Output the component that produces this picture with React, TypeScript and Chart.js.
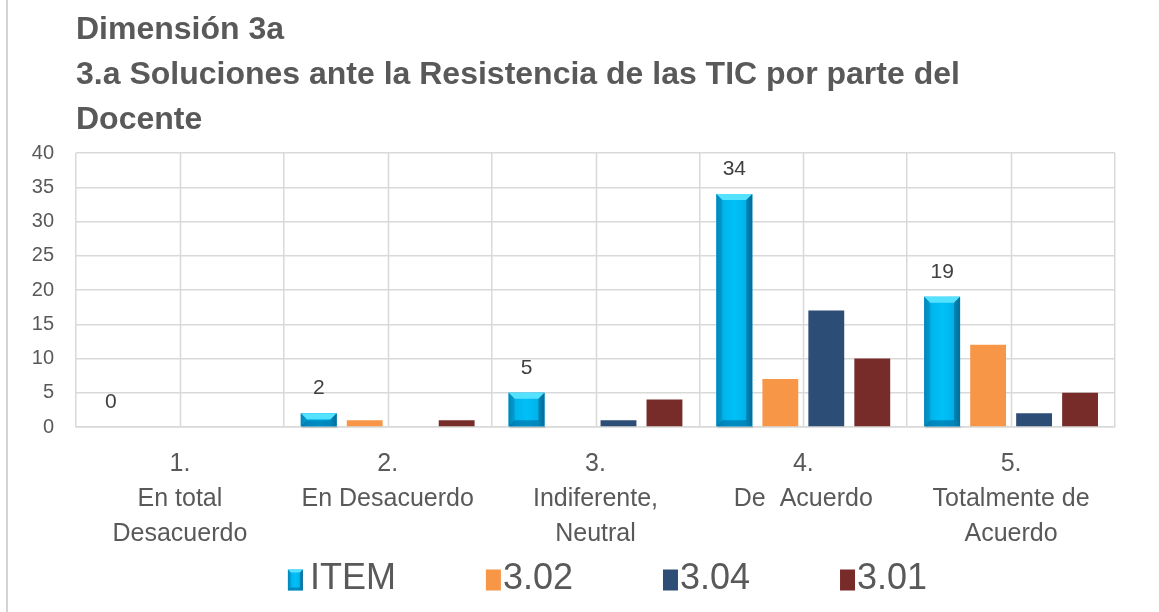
import React, { useEffect, useRef } from "react";
import { Chart, registerables } from "chart.js";

Chart.register(...registerables);

const titleLines = [
  "Dimensión 3a",
  "3.a Soluciones ante la Resistencia de las TIC por parte del",
  "Docente",
];
const categories: string[][] = [
  ["1.", "En total", "Desacuerdo"],
  ["2.", "En Desacuerdo"],
  ["3.", "Indiferente,", "Neutral"],
  ["4.", "De  Acuerdo"],
  ["5.", "Totalmente de", "Acuerdo"],
];
const seriesNames = ["ITEM", "3.02", "3.04", "3.01"];
const itemValues = [0, 2, 5, 34, 19];
const s302Values = [0, 1, 0, 7, 12];
const s304Values = [0, 0, 1, 17, 2];
const s301Values = [0, 1, 4, 10, 5];
const seriesColors = ["#00b9f2", "#f79646", "#2c4d75", "#772c2a"];
const yMin = 0;
const yMax = 40;
const yStep = 5;

const FONT = "'Liberation Sans', Arial, sans-serif";
const TEXT = "#595959";
const GRID = "#d9d9d9";

function drawBevel(ctx: CanvasRenderingContext2D, x0: number, x1: number, top: number, bottom: number, bev: number) {
  const w = x1 - x0;
  const h = bottom - top;
  if (h <= 0.5 || w <= 0) return;
  const b = Math.min(bev, w / 4, h / 2);
  const g = ctx.createLinearGradient(x0, 0, x1, 0);
  g.addColorStop(0, "#0a8cbd");
  g.addColorStop(0.18, "#00b4ec");
  g.addColorStop(0.5, "#00c0f8");
  g.addColorStop(0.82, "#00b2ea");
  g.addColorStop(1, "#0a86b5");
  ctx.save();
  ctx.fillStyle = g;
  ctx.fillRect(x0, top, w, h);
  ctx.fillStyle = "#55e2ff";
  ctx.beginPath();
  ctx.moveTo(x0, top);
  ctx.lineTo(x1, top);
  ctx.lineTo(x1 - b, top + b);
  ctx.lineTo(x0 + b, top + b);
  ctx.closePath();
  ctx.fill();
  ctx.fillStyle = "rgba(0,120,170,0.35)";
  ctx.beginPath();
  ctx.moveTo(x0, top);
  ctx.lineTo(x0 + b, top + b);
  ctx.lineTo(x0 + b, bottom - b);
  ctx.lineTo(x0, bottom);
  ctx.closePath();
  ctx.fill();
  ctx.fillStyle = "rgba(0,80,120,0.45)";
  ctx.beginPath();
  ctx.moveTo(x1, top);
  ctx.lineTo(x1 - b, top + b);
  ctx.lineTo(x1 - b, bottom - b);
  ctx.lineTo(x1, bottom);
  ctx.closePath();
  ctx.fill();
  ctx.fillStyle = "rgba(0,90,140,0.5)";
  ctx.beginPath();
  ctx.moveTo(x0, bottom);
  ctx.lineTo(x0 + b, bottom - b);
  ctx.lineTo(x1 - b, bottom - b);
  ctx.lineTo(x1, bottom);
  ctx.closePath();
  ctx.fill();
  ctx.restore();
}

const centerGridPlugin = {
  id: "centerGrid",
  beforeDatasetsDraw(chart: any) {
    const { ctx, chartArea, scales } = chart;
    const xs = scales.x;
    ctx.save();
    ctx.strokeStyle = GRID;
    ctx.lineWidth = 1.5;
    for (let i = 0; i < categories.length; i++) {
      const x = Math.round(xs.getPixelForValue(i)) + 0.5;
      ctx.beginPath();
      ctx.moveTo(x, chartArea.top);
      ctx.lineTo(x, chartArea.bottom);
      ctx.stroke();
    }
    ctx.restore();
  },
};

const itemStylePlugin = {
  id: "itemStyle",
  afterDatasetsDraw(chart: any) {
    const { ctx } = chart;
    const meta = chart.getDatasetMeta(0);
    meta.data.forEach((el: any, i: number) => {
      const half = el.width / 2;
      const top = Math.min(el.y, el.base);
      const bottom = Math.max(el.y, el.base);
      if (bottom - top > 0.5) {
        ctx.save();
        ctx.fillStyle = "rgba(0,0,0,0.12)";
        ctx.fillRect(el.x - half + 1, bottom, el.width, 2);
        ctx.restore();
      }
      drawBevel(ctx, el.x - half, el.x + half, top, bottom, 6);
      ctx.save();
      ctx.font = `21px ${FONT}`;
      ctx.fillStyle = "#404040";
      ctx.textAlign = "center";
      ctx.textBaseline = "middle";
      ctx.fillText(String(itemValues[i]), el.x, el.y - 25);
      ctx.restore();
    });
  },
};

const legendPlugin = {
  id: "customLegend",
  afterDraw(chart: any) {
    const { ctx, chartArea } = chart;
    ctx.save();
    ctx.font = `36px ${FONT}`;
    const boxW = 15;
    const boxH = 21;
    const gap = 2;
    const itemGap = 90;
    const widths = seriesNames.map((n, i) => boxW + gap + (i === 0 ? 5 : 0) + ctx.measureText(n).width);
    const total = widths.reduce((a, b) => a + b, 0) + itemGap * (seriesNames.length - 1);
    let x = (chartArea.left + chartArea.right) / 2 + 12 - total / 2;
    const cy = chart.height - 33;
    seriesNames.forEach((name, i) => {
      const bx = x;
      const by = cy - boxH / 2 + 1;
      if (i === 0) {
        drawBevel(ctx, bx, bx + boxW, by, by + boxH, 3);
      } else {
        ctx.fillStyle = seriesColors[i];
        ctx.fillRect(bx, by, boxW, boxH);
      }
      ctx.fillStyle = TEXT;
      ctx.textAlign = "left";
      ctx.textBaseline = "middle";
      ctx.fillText(name, bx + boxW + gap + (i === 0 ? 5 : 0), cy);
      x += widths[i] + itemGap;
    });
    ctx.restore();
  },
};

export default function App() {
  const ref = useRef<HTMLCanvasElement | null>(null);

  useEffect(() => {
    if (!ref.current) return;
    const chart = new Chart(ref.current, {
      type: "bar",
      data: {
        labels: categories,
        datasets: [
          { label: seriesNames[0], data: itemValues, backgroundColor: seriesColors[0] },
          { label: seriesNames[1], data: s302Values, backgroundColor: seriesColors[1] },
          { label: seriesNames[2], data: s304Values, backgroundColor: seriesColors[2] },
          { label: seriesNames[3], data: s301Values, backgroundColor: seriesColors[3] },
        ].map((d) => ({ ...d, barPercentage: 0.78, categoryPercentage: 0.885, borderWidth: 0 })),
      },
      options: {
        responsive: false,
        animation: false,
        devicePixelRatio: 1,
        layout: { padding: { left: 0, right: 44, top: 0, bottom: 40 } },
        plugins: {
          legend: { display: false },
          tooltip: { enabled: false },
          title: {
            display: true,
            text: titleLines,
            align: "start",
            fullSize: false,
            color: TEXT,
            font: { family: FONT, size: 32, weight: "bold", lineHeight: 45 / 32 },
            padding: { top: 7.5, bottom: 10.5 },
          },
        },
        scales: {
          x: {
            grid: { color: GRID, lineWidth: 1.5, offset: true, drawTicks: false },
            border: { color: GRID, width: 1.5 },
            ticks: {
              color: TEXT,
              font: { family: FONT, size: 25, lineHeight: 35 / 25 },
              padding: 20,
              maxRotation: 0,
              autoSkip: false,
            },
          },
          y: {
            min: yMin,
            max: yMax,
            grid: { color: GRID, lineWidth: 1.5, drawTicks: false },
            border: { display: false },
            ticks: {
              stepSize: yStep,
              color: TEXT,
              font: { family: FONT, size: 20 },
              padding: 22,
            },
            afterFit(scale: any) {
              scale.width = 76;
            },
          },
        },
      },
      plugins: [centerGridPlugin, itemStylePlugin, legendPlugin],
    } as any);
    return () => chart.destroy();
  }, []);

  return (
    <div style={{ position: "absolute", left: 0, top: 0, width: 1159, height: 612, background: "#fff", overflow: "hidden" }}>
      <div style={{ position: "absolute", left: 6, top: 0, width: 2, height: 612, background: "#d4d4d4" }} />
      <canvas ref={ref} width={1159} height={612} style={{ position: "absolute", left: 0, top: 0, width: 1159, height: 612 }} />
    </div>
  );
}
